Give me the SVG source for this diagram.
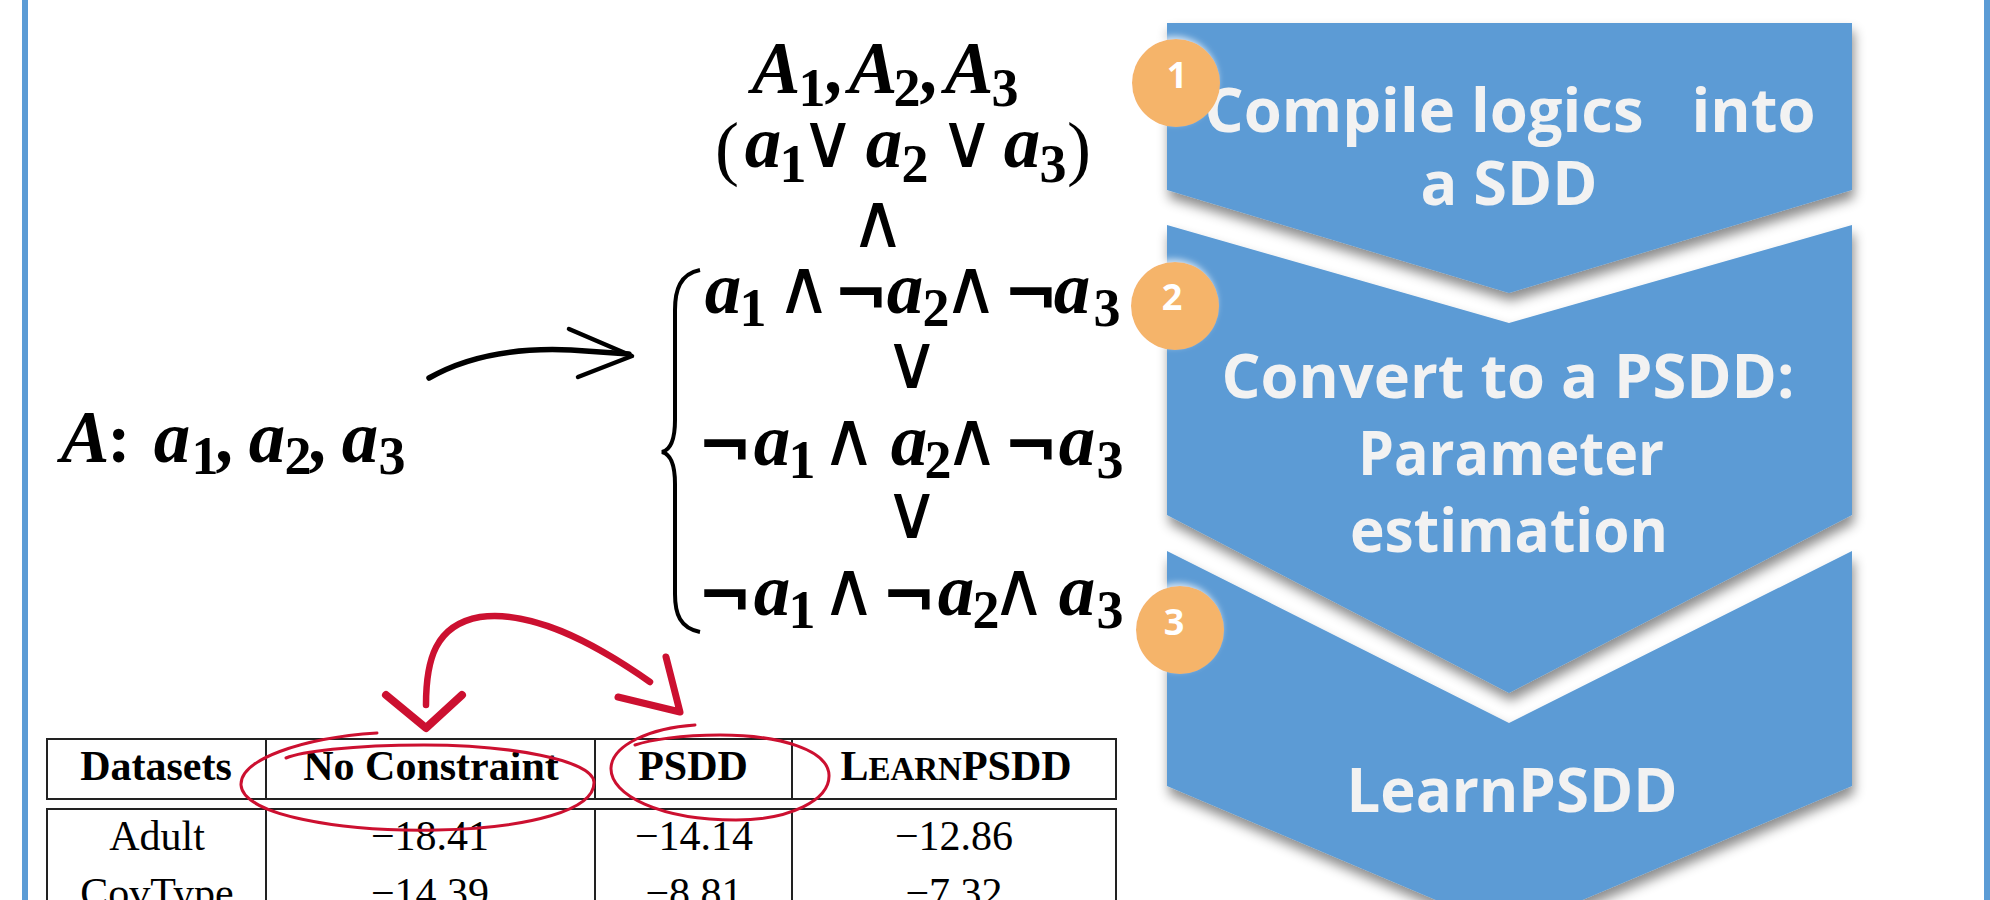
<svg xmlns="http://www.w3.org/2000/svg" width="1990" height="900" viewBox="0 0 1990 900">
<defs>
<style>
.m{font-family:"Liberation Serif",serif;font-weight:bold;font-style:italic;font-size:73px;fill:#000}
.s{font-family:"Liberation Serif",serif;font-weight:bold;font-size:54px;fill:#000}
.u{font-family:"Liberation Serif",serif;font-weight:bold;font-size:70px;fill:#000}
.p{font-family:"Liberation Serif",serif;font-size:72px;fill:#000}
.o{font-family:"DejaVu Sans",sans-serif;font-weight:200;font-size:76px;fill:#000}
.n{font-family:"DejaVu Sans",sans-serif;font-weight:bold;font-size:66px;fill:#000}
.chev{fill:#5B9BD5;filter:url(#sh)}
.ct{font-family:"Open Sans",sans-serif;font-weight:bold;font-size:60px;fill:#F2F2F2;text-anchor:middle;white-space:pre}
.badge{fill:#F5B46A;filter:url(#glow)}
.bt{font-family:"Open Sans",sans-serif;font-weight:bold;font-size:36px;fill:#FFFFFF;text-anchor:middle}
.th{font-family:"Liberation Serif",serif;font-weight:bold;font-size:42px;fill:#000;text-anchor:middle}
.td{font-family:"Liberation Serif",serif;font-size:42px;fill:#000;text-anchor:middle}
.tl{fill:none;stroke:#222;stroke-width:2}
.red{fill:none;stroke:#CC1030;stroke-linecap:round;stroke-linejoin:round}
.border{fill:#5B9BD5}
</style>
<filter id="sh" x="-10%" y="-10%" width="125%" height="130%">
<feDropShadow dx="2" dy="8" stdDeviation="6" flood-color="#000" flood-opacity="0.45"/>
</filter>
<filter id="glow" x="-30%" y="-30%" width="160%" height="160%">
<feDropShadow dx="-2" dy="-3" stdDeviation="3" flood-color="#FFFFFF" flood-opacity="0.7"/>
</filter>
</defs>
<rect width="1990" height="900" fill="#FFFFFF"/>
<rect class="border" x="22" y="0" width="6" height="900"/>
<rect class="border" x="1984" y="0" width="6" height="900"/>

<g id="step3">
<path class="chev" d="M1167,551 L1509,723 L1852,551 L1852,786 L1509,931 L1167,786 Z"/>
<text class="ct" x="1512" y="812" textLength="331" lengthAdjust="spacingAndGlyphs">LearnPSDD</text>
</g>
<g id="step2">
<path class="chev" d="M1167,225 L1509,323 L1852,225 L1852,515 L1509,693 L1167,515 Z"/>
<text class="ct" x="1508" y="398" textLength="573" lengthAdjust="spacingAndGlyphs">Convert to a PSDD:</text>
<text class="ct" x="1511" y="475" textLength="306" lengthAdjust="spacingAndGlyphs">Parameter</text>
<text class="ct" x="1509" y="552" textLength="318" lengthAdjust="spacingAndGlyphs">estimation</text>
</g>
<g id="step1">
<path class="chev" d="M1167,23 L1852,23 L1852,190 L1509,293 L1167,190 Z"/>
<text class="ct" x="1510" y="132" textLength="611" lengthAdjust="spacingAndGlyphs">Compile logics   into</text>
<text class="ct" x="1509" y="205" textLength="177" lengthAdjust="spacingAndGlyphs">a SDD</text>
</g>

<g id="badge1">
<circle class="badge" cx="1176" cy="83" r="44"/>
<text class="bt" x="1177" y="88">1</text>
</g>
<g id="badge2">
<circle class="badge" cx="1175" cy="306" r="44"/>
<text class="bt" x="1172" y="310">2</text>
</g>
<g id="badge3">
<circle class="badge" cx="1180" cy="630" r="44"/>
<text class="bt" x="1174" y="635">3</text>
</g>

<g id="variable">
<text text-anchor="middle">
<tspan class="m" x="85" y="462">A</tspan><tspan class="u" x="121" y="462">:</tspan>
<tspan class="m" x="172" y="462">a</tspan><tspan class="s" x="205" y="474">1</tspan><tspan class="m" x="229" y="462">,</tspan>
<tspan class="m" x="267" y="462">a</tspan><tspan class="s" x="298" y="474">2</tspan><tspan class="m" x="322" y="462">,</tspan>
<tspan class="m" x="360" y="462">a</tspan><tspan class="s" x="392" y="474">3</tspan>
</text>
</g>

<g id="formula">
<text text-anchor="middle">
<tspan class="m" x="776" y="93">A</tspan><tspan class="s" x="812" y="106">1</tspan><tspan class="m" x="838" y="93">,</tspan>
<tspan class="m" x="873" y="93">A</tspan><tspan class="s" x="907" y="106">2</tspan><tspan class="m" x="933" y="93">,</tspan>
<tspan class="m" x="969" y="93">A</tspan><tspan class="s" x="1005" y="106">3</tspan>
</text>
<text text-anchor="middle">
<tspan class="p" x="729" y="172">(</tspan>
<tspan class="m" x="763" y="167">a</tspan><tspan class="s" x="795" y="182">1</tspan>
<tspan class="o" x="830" y="167">∨</tspan>
<tspan class="m" x="884" y="167">a</tspan><tspan class="s" x="917" y="182">2</tspan>
<tspan class="o" x="969" y="167">∨</tspan>
<tspan class="m" x="1022" y="167">a</tspan><tspan class="s" x="1055" y="182">3</tspan>
<tspan class="p" x="1079" y="172">)</tspan>
</text>
<text text-anchor="middle"><tspan class="o" x="878" y="247">∧</tspan></text>
<text text-anchor="middle">
<tspan class="m" x="723" y="313">a</tspan><tspan class="s" x="755" y="326">1</tspan>
<tspan class="o" x="806" y="313">∧</tspan>
<tspan class="n" x="861" y="317">¬</tspan><tspan class="m" x="905" y="313">a</tspan><tspan class="s" x="938" y="326">2</tspan>
<tspan class="o" x="973" y="313">∧</tspan>
<tspan class="n" x="1031" y="317">¬</tspan><tspan class="m" x="1072" y="313">a</tspan><tspan class="s" x="1107" y="326">3</tspan>
</text>
<text text-anchor="middle"><tspan class="o" x="912" y="388">∨</tspan></text>
<text text-anchor="middle">
<tspan class="n" x="725" y="469">¬</tspan><tspan class="m" x="772" y="465">a</tspan><tspan class="s" x="804" y="478">1</tspan>
<tspan class="o" x="851" y="465">∧</tspan>
<tspan class="m" x="909" y="465">a</tspan><tspan class="s" x="940" y="478">2</tspan>
<tspan class="o" x="974" y="465">∧</tspan>
<tspan class="n" x="1031" y="469">¬</tspan><tspan class="m" x="1077" y="465">a</tspan><tspan class="s" x="1110" y="478">3</tspan>
</text>
<text text-anchor="middle"><tspan class="o" x="912" y="538">∨</tspan></text>
<text text-anchor="middle">
<tspan class="n" x="725" y="619">¬</tspan><tspan class="m" x="772" y="615">a</tspan><tspan class="s" x="804" y="628">1</tspan>
<tspan class="o" x="851" y="615">∧</tspan>
<tspan class="n" x="909" y="619">¬</tspan><tspan class="m" x="956" y="615">a</tspan><tspan class="s" x="988" y="628">2</tspan>
<tspan class="o" x="1021" y="615">∧</tspan>
<tspan class="m" x="1077" y="615">a</tspan><tspan class="s" x="1110" y="628">3</tspan>
</text>
<path d="M700,270 C680,274 675,290 675,310 L675,420 C675,440 670,450 662,452 C670,454 675,464 675,484 L675,594 C675,614 680,628 700,632" fill="none" stroke="#000" stroke-width="4"/>
</g>

<g id="table">
<rect class="tl" x="47" y="739" width="1069" height="60"/>
<line class="tl" x1="266" y1="739" x2="266" y2="799"/>
<line class="tl" x1="595" y1="739" x2="595" y2="799"/>
<line class="tl" x1="792" y1="739" x2="792" y2="799"/>
<path class="tl" d="M47,905 L47,809 L1116,809 L1116,905"/>
<line class="tl" x1="266" y1="809" x2="266" y2="905"/>
<line class="tl" x1="595" y1="809" x2="595" y2="905"/>
<line class="tl" x1="792" y1="809" x2="792" y2="905"/>
<text class="th" x="156" y="780">Datasets</text>
<text class="th" x="431" y="780">No Constraint</text>
<text class="th" x="693" y="780">PSDD</text>
<text class="th" x="956" y="780">L<tspan font-size="33">EARN</tspan>PSDD</text>
<text class="td" x="157" y="850">Adult</text>
<text class="td" x="430" y="850">−18.41</text>
<text class="td" x="694" y="850">−14.14</text>
<text class="td" x="954" y="850">−12.86</text>
<text class="td" x="157" y="907">CovType</text>
<text class="td" x="430" y="907">−14.39</text>
<text class="td" x="694" y="907">−8.81</text>
<text class="td" x="954" y="907">−7.32</text>
</g>

<g id="connectors">
<path d="M429,378 Q485,346 571,350 L629,354" fill="none" stroke="#000" stroke-width="5.5" stroke-linecap="round"/>
<path d="M569,329 L632,356 L578,377" fill="none" stroke="#000" stroke-width="4.5" stroke-linecap="round" stroke-linejoin="round"/>
<path class="red" stroke-width="3" d="M377,733 C300,738 240,760 241,785 C243,815 340,832 437,830 C530,828 595,810 594,782 C592,760 510,745 424,745 C350,745 300,752 286,758"/>
<path class="red" stroke-width="3" d="M695,725 C650,728 612,745 611,768 C610,795 660,820 736,820 C790,820 830,800 829,775 C828,750 780,735 720,735 C680,735 650,740 635,745"/>
<path class="red" stroke-width="6.5" d="M426,705 C426,660 435,625 480,617 C530,610 590,640 650,682"/>
<path class="red" stroke-width="8" d="M386,695 L426,728 L462,695"/>
<path class="red" stroke-width="7" d="M666,657 L680,712 L618,697"/>
</g>
</svg>
